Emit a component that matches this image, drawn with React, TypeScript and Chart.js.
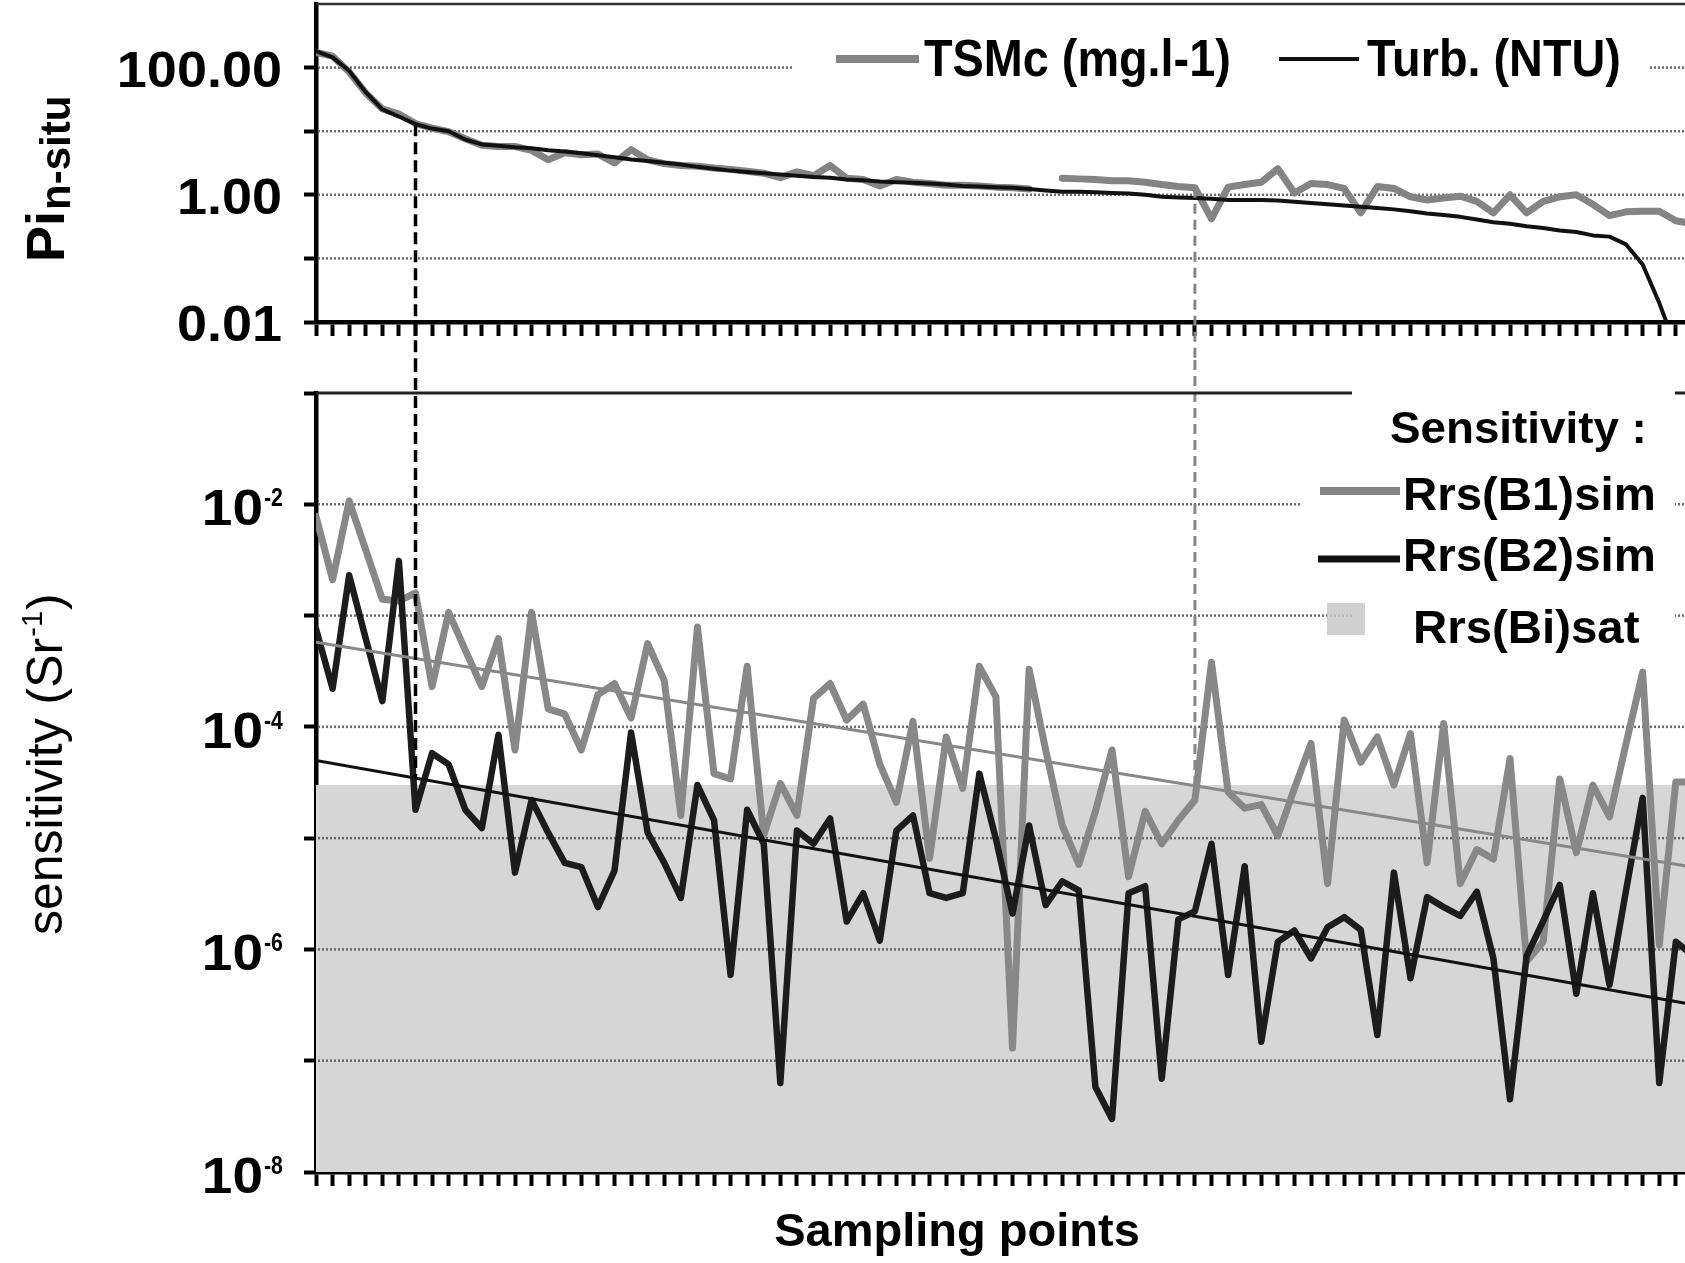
import { useEffect, useRef } from 'react';
import { Chart, registerables } from 'chart.js';

Chart.register(...registerables);

// ---- data -------------------------------------------------------------
// sampling points are indexed 0..83, sorted by decreasing turbidity
const turb = [182, 145, 89, 41, 22, 17, 12.9, 11, 10, 7.4, 6.2, 5.9, 5.6, 5.4, 5.0, 4.8, 4.5, 4.2, 3.9, 3.6, 3.4, 3.2, 3.0, 2.75, 2.57, 2.4, 2.29, 2.19, 2.09, 2.0, 1.91, 1.86, 1.74, 1.7, 1.62, 1.58, 1.55, 1.51, 1.45, 1.38, 1.35, 1.32, 1.29, 1.23, 1.17, 1.12, 1.12, 1.1, 1.07, 1.05, 1.0, 0.93, 0.91, 0.89, 0.87, 0.83, 0.83, 0.83, 0.81, 0.78, 0.74, 0.71, 0.68, 0.65, 0.62, 0.59, 0.55, 0.51, 0.48, 0.45, 0.41, 0.37, 0.35, 0.32, 0.3, 0.275, 0.26, 0.23, 0.22, 0.166, 0.08, 0.02, 0.004, 0.001];

const tsm = [174, 151, 85, 40, 22.4, 18.6, 13.2, 11.2, 9.8, 7.6, 6.0, 5.75, 5.75, 5.0, 3.55, 4.57, 4.27, 4.37, 3.16, 5.13, 3.55, 3.09, 2.88, 2.82, 2.63, 2.51, 2.34, 2.19, 1.86, 2.29, 2.0, 2.88, 1.82, 1.74, 1.38, 1.74, 1.58, 1.51, 1.41, 1.41, 1.38, 1.32, 1.29, 1.23, null, 1.82, 1.78, 1.74, 1.66, 1.66, 1.58, 1.45, 1.35, 1.29, 0.42, 1.32, 1.45, 1.58, 2.57, 1.07, 1.51, 1.45, 1.26, 0.52, 1.35, 1.26, 0.93, 0.83, 0.89, 0.95, 0.79, 0.52, 1.0, 0.52, 0.79, 0.93, 1.0, 0.71, 0.47, 0.54, 0.55, 0.55, 0.39, 0.35];

const rrsB1 = [7.8e-3, 2.1e-3, 1.07e-2, 3.9e-3, 1.4e-3, 1.35e-3, 1.6e-3, 2.3e-4, 1.07e-3, 4.9e-4, 2.3e-4, 6.2e-4, 6.2e-5, 1.07e-3, 1.45e-4, 1.3e-4, 6.2e-5, 1.95e-4, 2.45e-4, 1.2e-4, 5.6e-4, 2.6e-4, 1.6e-5, 7.9e-4, 3.8e-5, 3.4e-5, 3.5e-4, 1.07e-5, 3.1e-5, 1.6e-5, 1.8e-4, 2.45e-4, 1.15e-4, 1.6e-4, 4.6e-5, 2.1e-5, 1.12e-4, 6.6e-6, 8.1e-5, 2.8e-5, 3.5e-4, 1.86e-4, 1.3e-7, 3.3e-4, 6.2e-5, 1.3e-5, 5.8e-6, 1.74e-5, 6.2e-5, 4.5e-6, 1.74e-5, 8.9e-6, 1.45e-5, 2.2e-5, 3.8e-4, 2.6e-5, 1.86e-5, 2.0e-5, 1.05e-5, 2.8e-5, 7.1e-5, 3.9e-6, 1.15e-4, 4.8e-5, 8.1e-5, 3.0e-5, 8.7e-5, 6.0e-6, 1.07e-4, 3.9e-6, 7.9e-6, 6.5e-6, 5.2e-5, 7.8e-7, 1.17e-6, 3.4e-5, 7.4e-6, 3.0e-5, 1.55e-5, 7.1e-5, 3.1e-4, 1.1e-6, 3.2e-5, 3.2e-5];

const rrsB2 = [7.6e-4, 2.2e-4, 2.3e-3, 6.2e-4, 1.7e-4, 3.1e-3, 1.8e-5, 5.8e-5, 4.6e-5, 1.8e-5, 1.23e-5, 8.5e-5, 4.9e-6, 2.2e-5, 1.12e-5, 6.0e-6, 5.5e-6, 2.4e-6, 5.1e-6, 8.9e-5, 1.12e-5, 6.0e-6, 2.9e-6, 3.0e-5, 1.45e-5, 5.9e-7, 1.8e-5, 8.9e-6, 6.3e-8, 1.17e-5, 8.9e-6, 1.5e-5, 1.78e-6, 3.2e-6, 1.2e-6, 1.17e-5, 1.6e-5, 3.2e-6, 2.9e-6, 3.2e-6, 3.8e-5, 9.8e-6, 2.1e-6, 1.3e-5, 2.5e-6, 4.1e-6, 3.4e-6, 5.8e-8, 3.0e-8, 3.2e-6, 3.7e-6, 6.9e-8, 1.86e-6, 2.2e-6, 8.9e-6, 5.9e-7, 5.6e-6, 1.48e-7, 1.17e-6, 1.48e-6, 8.3e-7, 1.58e-6, 1.95e-6, 1.5e-6, 1.7e-7, 4.9e-6, 5.5e-7, 2.95e-6, 2.4e-6, 2.0e-6, 3.3e-6, 8.3e-7, 4.5e-8, 8.7e-7, 1.8e-6, 3.8e-6, 4.0e-7, 3.2e-6, 4.8e-7, 3.4e-6, 2.3e-5, 6.3e-8, 1.17e-6, 8.9e-7];

// exponential trend lines (straight on the log axis), given by their end points
const trendX = [0, 83];
const trendB1 = [5.75e-4, 5.5e-6];
const trendB2 = [5.0e-5, 3.2e-7];

// satellite sensor sensitivity level
const satX = [0, 84];
const satLevel = 3e-5;

// sampling points where each trend reaches the satellite sensitivity
const crossIdx = [6, 53];

const topTicks = [0.01, 0.1, 1, 10, 100];
const topGrid = [0.1, 1, 10, 100];
const topLabels: [number, string][] = [[100, '100.00'], [1, '1.00'], [0.01, '0.01']];
const botTicks = [1e-8, 1e-7, 1e-6, 1e-5, 1e-4, 1e-3, 1e-2, 1e-1];
const botGrid = [1e-7, 1e-6, 1e-5, 1e-4, 1e-3, 1e-2];
const botLabelExp = [-2, -4, -6, -8];

// ---- drawing helpers ----------------------------------------------------
const FONT = '"Liberation Sans", Arial, Helvetica, sans-serif';
const GRAY = '#848484';

const pts = (arr: (number | null)[]) => arr.map((v, i) => ({ x: i, y: v }));

function text(ctx: CanvasRenderingContext2D, s: string, x: number, y: number, font: string, align: CanvasTextAlign = 'left', sx = 1) {
  ctx.save();
  ctx.font = `${font} ${FONT}`;
  ctx.fillStyle = '#000';
  ctx.textBaseline = 'alphabetic';
  ctx.textAlign = align;
  ctx.translate(x, y);
  ctx.scale(sx, 1);
  ctx.fillText(s, 0, 0);
  ctx.restore();
}

function hline(ctx: CanvasRenderingContext2D, x1: number, x2: number, y: number, color: string, w: number) {
  ctx.save();
  ctx.strokeStyle = color;
  ctx.lineWidth = w;
  ctx.beginPath();
  ctx.moveTo(x1, y);
  ctx.lineTo(x2, y);
  ctx.stroke();
  ctx.restore();
}

function dottedGrid(chart: any, values: number[]) {
  const { ctx, chartArea: a, scales } = chart;
  ctx.save();
  ctx.strokeStyle = '#6a6a6a';
  ctx.lineWidth = 2.5;
  ctx.setLineDash([2, 2]);
  for (const v of values) {
    const py = scales.y.getPixelForValue(v);
    ctx.beginPath();
    ctx.moveTo(a.left + 2, py);
    ctx.lineTo(a.right, py);
    ctx.stroke();
  }
  ctx.restore();
}

function dashedV(ctx: CanvasRenderingContext2D, x: number, y1: number, y2: number, color: string, w: number, dash: number[]) {
  ctx.save();
  ctx.strokeStyle = color;
  ctx.lineWidth = w;
  ctx.setLineDash(dash);
  ctx.beginPath();
  ctx.moveTo(x, y1);
  ctx.lineTo(x, y2);
  ctx.stroke();
  ctx.restore();
}

function trendAt(ends: number[], idx: number) {
  const l0 = Math.log10(ends[0]);
  const l1 = Math.log10(ends[1]);
  const t = (idx - trendX[0]) / (trendX[1] - trendX[0]);
  return Math.pow(10, l0 + (l1 - l0) * t);
}

const markerStyle = [
  { color: '#000', width: 3.5, dash: [12, 6] },
  { color: '#868686', width: 3, dash: [10, 6] },
];

const xScale = (h: number) => ({
  type: 'linear' as const,
  min: 0,
  max: 84,
  ticks: { display: false, stepSize: 1 },
  grid: { drawOnChartArea: false, drawTicks: true, tickLength: 14, tickWidth: 4, tickColor: '#000' },
  border: { display: true, width: 4.5, color: '#000' },
  afterFit: (s: any) => { s.height = h; },
});

const yScale = (min: number, max: number, ticks: number[]) => ({
  type: 'logarithmic' as const,
  min,
  max,
  afterBuildTicks: (s: any) => { s.ticks = ticks.map((v) => ({ value: v })); },
  ticks: { display: false },
  grid: { drawOnChartArea: false, drawTicks: true, tickLength: 12, tickWidth: 4, tickColor: '#000' },
  border: { display: true, width: 4.5, color: '#000' },
  afterFit: (s: any) => { s.width = 316; },
});

const baseOptions = {
  responsive: false,
  animation: false as const,
  devicePixelRatio: 1,
  events: [],
  plugins: {
    legend: { display: false },
    tooltip: { enabled: false },
    filler: { drawTime: 'beforeDatasetsDraw' as const },
  },
  elements: { point: { radius: 0 }, line: { tension: 0, borderJoinStyle: 'round' as const, borderCapStyle: 'round' as const } },
};

// ---- upper panel: in-situ parameters ------------------------------------
const topPlugin = {
  id: 'insituDecor',
  beforeDatasetsDraw(chart: any) {
    dottedGrid(chart, topGrid);
  },
  afterDatasetsDraw(chart: any) {
    const { ctx, scales } = chart;
    const sources = [turb, tsm];
    crossIdx.forEach((idx, k) => {
      const px = scales.x.getPixelForValue(idx);
      const py = scales.y.getPixelForValue(sources[k][idx] as number);
      const st = markerStyle[k];
      dashedV(ctx, px, py, chart.height, st.color, st.width, st.dash);
    });
  },
  afterDraw(chart: any) {
    const { ctx, chartArea: a, scales } = chart;
    hline(ctx, a.left, chart.width, a.top, '#333', 2.5);

    topLabels.forEach(([v, s]) => {
      text(ctx, s, a.left - 34, scales.y.getPixelForValue(v) + 19, 'bold 50px', 'right', 1.08);
    });

    // axis title: Pi with subscript n-situ
    ctx.save();
    ctx.translate(64, 262);
    ctx.rotate(-Math.PI / 2);
    ctx.fillStyle = '#000';
    ctx.font = `bold 54px ${FONT}`;
    ctx.fillText('Pi', 0, 0);
    const w = ctx.measureText('Pi').width;
    ctx.font = `bold 42px ${FONT}`;
    ctx.fillText('n-situ', w + 1, 6);
    ctx.restore();

    // legend
    ctx.fillStyle = '#fff';
    ctx.fillRect(793, 28, 857, 72);
    hline(ctx, 836, 919, 59, GRAY, 8);
    text(ctx, 'TSMc (mg.l-1)', 924, 76, 'bold 52px', 'left', 0.9);
    hline(ctx, 1279, 1359, 59, '#111', 4);
    text(ctx, 'Turb. (NTU)', 1367, 76, 'bold 52px', 'left', 0.9);
  },
};

const topConfig: any = {
  type: 'line',
  data: {
    datasets: [
      { label: 'Turb. (NTU)', data: pts(turb), borderColor: '#111', borderWidth: 4, order: 0 },
      { label: 'TSMc (mg.l-1)', data: pts(tsm), borderColor: GRAY, borderWidth: 7, order: 1, spanGaps: false },
    ],
  },
  options: {
    ...baseOptions,
    layout: { padding: { top: 4, right: 1, left: 0, bottom: 0 } },
    scales: { x: xScale(38), y: yScale(0.01, 1000, topTicks) },
  },
  plugins: [topPlugin],
};

// ---- lower panel: sensitivity ------------------------------------------
const OFF = 360; // vertical offset of the lower canvas on the page

const botPlugin = {
  id: 'sensitivityDecor',
  beforeDatasetsDraw(chart: any) {
    dottedGrid(chart, botGrid);
  },
  afterDatasetsDraw(chart: any) {
    const { ctx, scales } = chart;
    const trends = [trendB2, trendB1];
    crossIdx.forEach((idx, k) => {
      const px = scales.x.getPixelForValue(idx);
      const py = scales.y.getPixelForValue(trendAt(trends[k], idx));
      const st = markerStyle[k];
      dashedV(ctx, px, 0, py, st.color, st.width, st.dash);
    });
  },
  afterDraw(chart: any) {
    const { ctx, chartArea: a, scales } = chart;
    hline(ctx, a.left, chart.width, a.top, '#222', 3);

    // tick labels 10^n
    botLabelExp.forEach((e) => {
      const py = scales.y.getPixelForValue(Math.pow(10, e));
      text(ctx, '10', a.left - 53, py + 21, 'bold 50px', 'right', 1.1);
      text(ctx, String(e), a.left - 52, py + 2, 'bold 25px', 'left', 0.85);
    });

    // axis title
    ctx.save();
    ctx.translate(62, 935 - OFF);
    ctx.rotate(-Math.PI / 2);
    ctx.fillStyle = '#000';
    ctx.font = `50px ${FONT}`;
    const t1 = 'sensitivity (Sr';
    ctx.fillText(t1, 0, 0);
    let w = ctx.measureText(t1).width;
    ctx.font = `29px ${FONT}`;
    ctx.fillText('-1', w + 1, -20);
    w += ctx.measureText('-1').width + 2;
    ctx.font = `50px ${FONT}`;
    ctx.fillText(')', w, 0);
    ctx.restore();

    text(ctx, 'Sampling points', 957, 1246 - OFF, 'bold 47px', 'center');

    // legend
    ctx.fillStyle = '#fff';
    ctx.fillRect(1352, 385 - OFF, 323, 265);
    ctx.fillRect(1300, 470 - OFF, 60, 50);
    text(ctx, 'Sensitivity :', 1390, 443 - OFF, 'bold 44px', 'left', 1.04);
    hline(ctx, 1320, 1400, 491 - OFF, GRAY, 8);
    text(ctx, 'Rrs(B1)sim', 1403, 510 - OFF, 'bold 46px', 'left', 1.03);
    hline(ctx, 1318, 1400, 559 - OFF, '#111', 7);
    text(ctx, 'Rrs(B2)sim', 1403, 571 - OFF, 'bold 46px', 'left', 1.03);
    ctx.fillStyle = 'rgba(200,200,200,0.85)';
    ctx.fillRect(1327, 603 - OFF, 38, 32);
    text(ctx, 'Rrs(Bi)sat', 1413, 643 - OFF, 'bold 46px', 'left', 1.03);
  },
};

const botConfig: any = {
  type: 'line',
  data: {
    datasets: [
      { label: 'trend B1', data: trendX.map((x, k) => ({ x, y: trendB1[k] })), borderColor: '#888888', borderWidth: 3, order: 0 },
      { label: 'trend B2', data: trendX.map((x, k) => ({ x, y: trendB2[k] })), borderColor: '#111', borderWidth: 3, order: 1 },
      { label: 'Rrs(B2)sim', data: pts(rrsB2), borderColor: '#1c1c1c', borderWidth: 6.5, order: 2 },
      { label: 'Rrs(B1)sim', data: pts(rrsB1), borderColor: '#888888', borderWidth: 7, order: 3 },
      {
        label: 'Rrs(Bi)sat',
        data: satX.map((x) => ({ x, y: satLevel })),
        borderColor: 'rgba(0,0,0,0)',
        borderWidth: 0,
        backgroundColor: '#d6d6d6',
        fill: 'start',
        order: 4,
      },
    ],
  },
  options: {
    ...baseOptions,
    layout: { padding: { top: 33, right: 1, left: 0, bottom: 0 } },
    scales: { x: xScale(91), y: yScale(1e-8, 1e-1, botTicks) },
  },
  plugins: [botPlugin],
};

export default function App() {
  const topRef = useRef<HTMLCanvasElement>(null);
  const botRef = useRef<HTMLCanvasElement>(null);

  useEffect(() => {
    const top = new Chart(topRef.current as HTMLCanvasElement, topConfig);
    const bot = new Chart(botRef.current as HTMLCanvasElement, botConfig);
    return () => {
      top.destroy();
      bot.destroy();
    };
  }, []);

  return (
    <div style={{ position: 'absolute', left: 0, top: 0, width: 1685, height: 1263, overflow: 'hidden', background: '#fff' }}>
      <canvas ref={topRef} width={1710} height={360} style={{ position: 'absolute', left: 0, top: 0, width: 1710, height: 360 }} />
      <canvas ref={botRef} width={1710} height={903} style={{ position: 'absolute', left: 0, top: OFF, width: 1710, height: 903 }} />
    </div>
  );
}
